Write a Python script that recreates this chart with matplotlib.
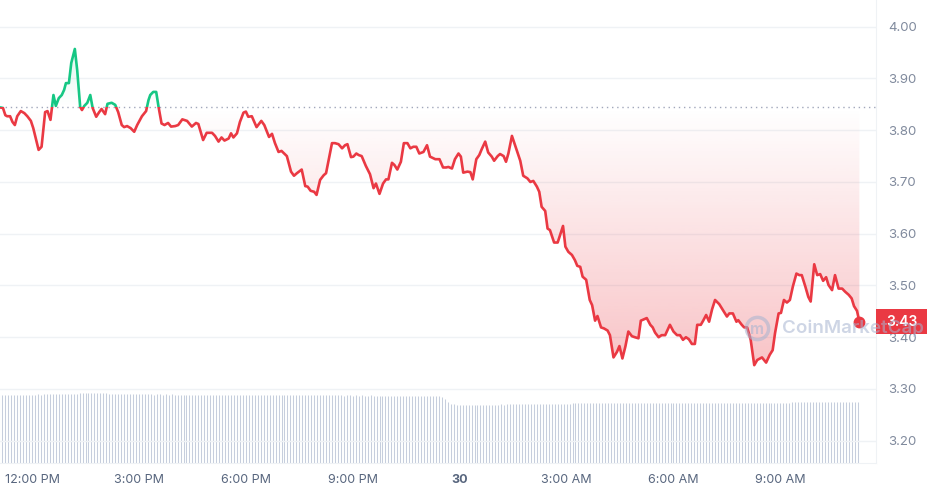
import numpy as np
import matplotlib
matplotlib.use('Agg')
import matplotlib.pyplot as plt
import matplotlib.colors as mcolors
import matplotlib.transforms as mtransforms
from matplotlib.patches import Rectangle
from matplotlib.lines import Line2D

plt.rcParams['font.family'] = ['Inter', 'DejaVu Sans']

# price samples: minutes after 12:00 PM, price in USD
minutes = [
    -54, -49, -45, -42, -37, -33, -29, -25, -19, -13, -8, -2,
    2, 7, 11, 16, 22, 26, 31, 36, 40, 45, 50, 54,
    57, 62, 66, 72, 76, 81, 84, 88, 93, 98, 102, 108,
    113, 117, 123, 127, 134, 140, 145, 151, 155, 160, 166, 172,
    177, 185, 192, 196, 199, 204, 209, 213, 218, 223, 229, 234,
    241, 246, 253, 261, 269, 276, 280, 288, 294, 303, 308, 314,
    319, 324, 331, 335, 339, 345, 350, 356, 360, 364, 370, 378,
    386, 391, 399, 404, 409, 415, 420, 429, 436, 441, 446, 454,
    460, 464, 469, 475, 479, 485, 491, 495, 505, 510, 516, 522,
    527, 531, 537, 541, 546, 550, 555, 562, 569, 575, 579, 585,
    591, 596, 600, 606, 610, 615, 621, 626, 632, 637, 642, 647,
    652, 659, 665, 670, 679, 686, 692, 697, 701, 707, 712, 718,
    722, 726, 733, 738, 742, 748, 753, 757, 763, 768, 774, 778,
    784, 788, 794, 798, 802, 808, 815, 822, 827, 834, 839, 844,
    850, 854, 858, 864, 868, 872, 879, 885, 889, 894, 898, 903,
    909, 914, 918, 923, 927, 933, 939, 943, 948, 952, 958, 963,
    969, 973, 979, 985, 989, 994, 999, 1004, 1010, 1015, 1021, 1025,
    1031, 1035, 1041, 1045, 1049, 1055, 1060, 1066, 1070, 1074, 1080, 1086,
    1091, 1096, 1101, 1106, 1111, 1116, 1120, 1126, 1130, 1135, 1140, 1145,
    1150, 1157, 1163, 1170, 1174, 1180, 1186, 1189, 1195, 1199, 1204, 1210,
    1216, 1221, 1229, 1236, 1242, 1247, 1251, 1257, 1261, 1266, 1271, 1276,
    1281, 1287, 1292, 1296, 1302, 1307, 1311, 1317, 1322, 1327, 1332, 1337,
    1341, 1347, 1352, 1358, 1364, 1369, 1375, 1380, 1384, 1389, 1393,
]
price = [
    3.844, 3.843, 3.829, 3.827, 3.827, 3.816, 3.810, 3.827, 3.837, 3.833, 3.827, 3.818,
    3.804, 3.781, 3.762, 3.768, 3.835, 3.837, 3.820, 3.868, 3.847, 3.862, 3.868, 3.878,
    3.891, 3.891, 3.930, 3.957, 3.916, 3.845, 3.839, 3.847, 3.853, 3.868, 3.843, 3.826,
    3.835, 3.841, 3.831, 3.851, 3.853, 3.849, 3.835, 3.810, 3.806, 3.808, 3.804, 3.797,
    3.810, 3.827, 3.837, 3.858, 3.868, 3.874, 3.874, 3.845, 3.813, 3.810, 3.814, 3.807,
    3.808, 3.810, 3.821, 3.818, 3.807, 3.814, 3.812, 3.781, 3.795, 3.795, 3.789, 3.778,
    3.786, 3.780, 3.784, 3.794, 3.786, 3.794, 3.816, 3.834, 3.836, 3.826, 3.827, 3.806,
    3.818, 3.810, 3.787, 3.793, 3.775, 3.758, 3.760, 3.750, 3.720, 3.712, 3.717, 3.724,
    3.692, 3.691, 3.683, 3.681, 3.675, 3.704, 3.713, 3.717, 3.775, 3.775, 3.773, 3.765,
    3.771, 3.773, 3.748, 3.749, 3.755, 3.752, 3.750, 3.731, 3.715, 3.688, 3.697, 3.677,
    3.697, 3.705, 3.705, 3.737, 3.733, 3.724, 3.739, 3.775, 3.775, 3.765, 3.768, 3.768,
    3.755, 3.758, 3.771, 3.749, 3.744, 3.744, 3.728, 3.728, 3.729, 3.726, 3.744, 3.755,
    3.749, 3.718, 3.720, 3.719, 3.705, 3.744, 3.752, 3.763, 3.778, 3.757, 3.749, 3.741,
    3.750, 3.754, 3.750, 3.739, 3.755, 3.789, 3.765, 3.741, 3.712, 3.707, 3.700, 3.702,
    3.691, 3.681, 3.652, 3.644, 3.610, 3.607, 3.583, 3.583, 3.597, 3.615, 3.575, 3.565,
    3.559, 3.549, 3.538, 3.536, 3.517, 3.511, 3.472, 3.462, 3.432, 3.441, 3.419, 3.417,
    3.413, 3.404, 3.361, 3.372, 3.383, 3.359, 3.382, 3.411, 3.402, 3.400, 3.398, 3.432,
    3.435, 3.437, 3.424, 3.419, 3.409, 3.400, 3.404, 3.404, 3.414, 3.424, 3.411, 3.404,
    3.404, 3.395, 3.400, 3.396, 3.387, 3.387, 3.424, 3.424, 3.432, 3.443, 3.430, 3.454,
    3.472, 3.464, 3.453, 3.440, 3.446, 3.446, 3.430, 3.433, 3.424, 3.419, 3.419, 3.395,
    3.346, 3.356, 3.361, 3.351, 3.366, 3.375, 3.408, 3.446, 3.447, 3.472, 3.467, 3.472,
    3.498, 3.523, 3.520, 3.520, 3.498, 3.478, 3.469, 3.541, 3.520, 3.522, 3.509, 3.516,
    3.501, 3.491, 3.520, 3.494, 3.494, 3.488, 3.482, 3.475, 3.460, 3.451, 3.430,
]
open_price = 3.844
last_label = '3.43'

# volume bars, one every 5 minutes starting at vol_start (minutes after 12:00 PM)
vol_start = -55
vol_step = 5
volume = [
    68.0, 68.1, 68.0, 67.9, 68.0, 68.2, 68.1, 68.0, 68.2, 68.3, 68.4, 68.5,
    68.5, 68.6, 68.5, 68.7, 68.9, 69.0, 69.0, 69.1, 69.0, 68.9, 69.1, 69.2,
    69.2, 69.3, 69.4, 69.6, 69.7, 69.8, 69.7, 69.8, 69.7, 69.6, 69.7, 69.6,
    69.6, 69.5, 69.3, 69.4, 69.3, 69.2, 69.3, 69.1, 69.0, 68.9, 68.8, 68.7,
    68.7, 68.6, 68.7, 68.6, 68.5, 68.6, 68.6, 68.5, 68.6, 68.5, 68.6, 68.5,
    68.5, 68.4, 68.5, 68.4, 68.4, 68.3, 68.4, 68.3, 68.4, 68.3, 68.3, 68.2,
    68.2, 68.3, 68.2, 68.1, 68.2, 68.1, 68.2, 68.1, 68.0, 68.1, 68.0, 68.0,
    68.0, 67.9, 68.0, 67.9, 67.9, 67.8, 67.9, 67.8, 67.8, 67.7, 67.8, 67.7,
    67.7, 67.8, 67.7, 67.7, 67.8, 67.7, 67.7, 67.6, 67.7, 67.7, 67.6, 67.7,
    67.7, 67.6, 67.7, 67.6, 67.6, 67.7, 67.6, 67.6, 67.5, 67.6, 67.6, 67.5,
    67.6, 67.5, 67.6, 67.5, 67.5, 67.6, 67.5, 67.5, 67.4, 67.5, 67.4, 67.4,
    67.4, 67.3, 67.4, 67.3, 67.3, 67.4, 67.3, 67.3, 67.2, 67.3, 67.2, 67.2,
    67.2, 67.2, 67.1, 67.0, 66.8, 66.5, 64.0, 61.0, 59.5, 58.8, 58.5, 58.4,
    58.4, 58.5, 58.4, 58.4, 58.5, 58.4, 58.5, 58.5, 58.4, 58.5, 58.5, 58.5,
    58.5, 58.6, 58.5, 58.6, 58.7, 58.7, 58.8, 58.8, 58.9, 58.9, 59.0, 59.0,
    59.0, 59.1, 59.0, 59.1, 59.2, 59.1, 59.2, 59.3, 59.3, 59.4, 59.4, 59.5,
    59.5, 59.6, 59.6, 59.7, 59.7, 59.8, 59.8, 59.9, 59.9, 60.0, 60.0, 60.0,
    60.0, 60.1, 60.1, 60.2, 60.2, 60.3, 60.3, 60.4, 60.4, 60.5, 60.5, 60.5,
    60.5, 60.5, 60.4, 60.4, 60.3, 60.3, 60.2, 60.2, 60.1, 60.0, 60.0, 59.9,
    59.8, 59.8, 59.7, 59.7, 59.7, 59.6, 59.7, 59.7, 59.6, 59.7, 59.7, 59.7,
    59.7, 59.6, 59.7, 59.7, 59.6, 59.7, 59.7, 59.6, 59.7, 59.7, 59.7, 59.8,
    59.7, 59.8, 59.9, 59.9, 60.0, 60.1, 60.2, 60.2, 60.3, 60.3, 60.3, 60.4,
    60.3, 60.4, 60.5, 60.6, 60.7, 60.8, 60.8, 60.9, 61.0, 61.0, 61.0, 61.1,
    61.0, 61.1, 61.2, 61.2, 61.3, 61.3, 61.2, 61.3, 61.3, 61.3, 61.2, 61.3,
    60.9, 60.8,
]

y_ticks = [3.20, 3.30, 3.40, 3.50, 3.60, 3.70, 3.80, 3.90, 4.00]
x_ticks = [0, 180, 360, 540, 720, 900, 1080, 1260]
x_tick_labels = ['12:00 PM', '3:00 PM', '6:00 PM', '9:00 PM', '30',
                 '3:00 AM', '6:00 AM', '9:00 AM']

red = '#ea3943'
green = '#16c784'
grid_c = '#eff2f5'

t = np.array(minutes, dtype=float)
p = np.array(price)
vol_t = vol_start + vol_step * np.arange(len(volume))

x_lim = (-54, 1421)
y_lim = (3.157, 4.0516)

fig = plt.figure(figsize=(9.28, 4.95), dpi=100)
rect = [0.0, 32 / 495, 876 / 928, 463 / 495]

# volume underneath, thin antialiased lines
vax = fig.add_axes(rect)
vax.vlines(vol_t, 0, volume, color='#c6cedd', lw=0.75, antialiased=True)
vax.set_xlim(*x_lim)
vax.set_ylim(0, 463)
vax.axis('off')

ax = fig.add_axes(rect, sharex=vax)
ax.patch.set_alpha(0)


def gradient_fill(lo, hi, color, a_bottom, a_top, y0, y1):
    poly = ax.fill_between(t, lo, hi, facecolor='none', edgecolor='none')
    n = 256
    rgba = np.zeros((n, 1, 4))
    rgba[..., :3] = mcolors.to_rgb(color)
    rgba[:, 0, 3] = np.linspace(a_bottom, a_top, n)
    im = ax.imshow(rgba, extent=[t[0], t[-1], y0, y1], origin='lower',
                   aspect='auto', zorder=1, interpolation='bilinear')
    im.set_clip_path(poly.get_paths()[0], transform=ax.transData)


gradient_fill(np.minimum(p, open_price), open_price, red, 0.30, 0.0, p.min(), open_price)
gradient_fill(open_price, np.maximum(p, open_price), green, 0.0, 0.14, open_price, p.max())

# line: green above the open price, red below
for col, y0, y1 in [(green, open_price, 10), (red, 0, open_price)]:
    ln, = ax.plot(t, p, color=col, lw=1.9, zorder=3, solid_joinstyle='round')
    clip = Rectangle((t[0] - 100, y0), 3000, y1 - y0, transform=ax.transData)
    ln.set_clip_path(clip)

ax.axhline(open_price, color='#a1a7bb', lw=1, ls=(0, (1, 2.7)), zorder=2)
ax.plot(t[-1], p[-1], 'o', color=red, ms=7.5, zorder=4)

ax.set_xlim(*x_lim)
ax.set_ylim(*y_lim)
ax.set_yticks(y_ticks)
ax.set_yticklabels([f'{v:.2f}' for v in y_ticks])
ax.yaxis.tick_right()
ax.set_xticks(x_ticks)
ax.set_xticklabels(x_tick_labels)
ax.get_xticklabels()[4].set_fontweight('bold')
ax.tick_params(axis='y', length=0, pad=9, labelsize=9.5, labelcolor='#808a9d')
ax.tick_params(axis='x', length=0, pad=8, labelsize=9, labelcolor='#58667e')
ax.yaxis.grid(True, color=grid_c, lw=1)
ax.set_axisbelow(True)
for s in ['top', 'left']:
    ax.spines[s].set_visible(False)
for s in ['right', 'bottom']:
    ax.spines[s].set_color(grid_c)

# current price tag
trans = mtransforms.blended_transform_factory(ax.transAxes, ax.transData)
ax.add_patch(Rectangle((1.0, p[-1] - 0.024), 52 / 876, 0.048, transform=trans,
                       facecolor=red, edgecolor='none', clip_on=False, zorder=5))
ax.text(1.0 + 26 / 876, p[-1], last_label, transform=trans, ha='center', va='center',
        color='white', fontsize=10, fontweight='semibold', zorder=6, clip_on=False)

# watermark
wm_c = '#a6b4d0'
fig.add_artist(Line2D([757 / 928], [1 - 328 / 495], marker='o', ms=16, mfc='none',
                      mec=wm_c, mew=2.5, alpha=0.55, transform=fig.transFigure))
fig.text(757 / 928, 1 - 329 / 495, 'm', ha='center', va='center', fontsize=11,
         fontweight='bold', color=wm_c, alpha=0.55)
fig.text(782 / 928, 1 - 328 / 495, 'CoinMarketCap', ha='left', va='center',
         fontsize=13.5, fontweight='semibold', color=wm_c, alpha=0.55, zorder=10)

fig.savefig('out.png', dpi=100)
